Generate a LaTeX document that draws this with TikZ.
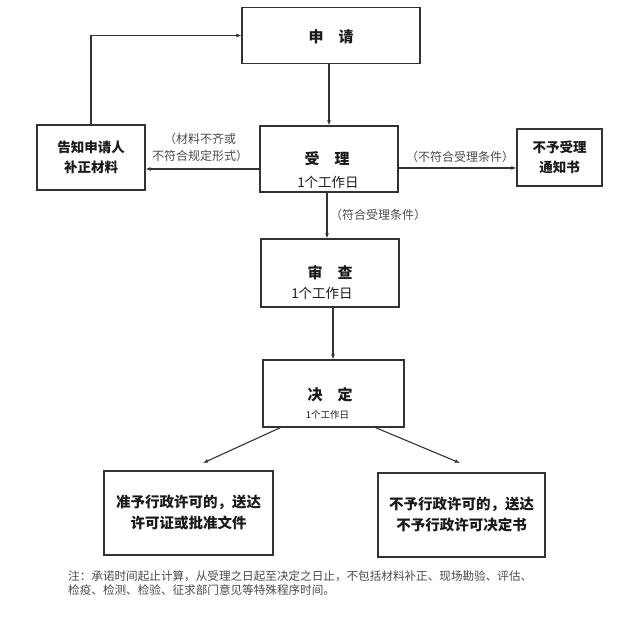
\documentclass[tikz,border=0pt]{standalone}
\usepackage{fontspec}
\setmainfont{Noto Sans CJK SC}
\usetikzlibrary{arrows.meta,calc}
\definecolor{linec}{HTML}{333333}
\definecolor{labc}{HTML}{4A4A4A}
\definecolor{txtc}{HTML}{1A1A1A}
\tikzset{
  box/.style={draw=linec,line width=1.2pt,rectangle,inner sep=0pt,align=center,text=txtc},
  arr/.style={draw=linec,line width=1.1pt,-{Latex[length=5pt,width=4pt]}},
  ln/.style={draw=linec,line width=1.1pt},
  lab/.style={text=labc,font=\fontsize{12}{17}\selectfont,inner sep=0pt,align=center},
  ttl/.style={font=\fontsize{15}{18}\selectfont\bfseries},
  btxt/.style={font=\fontsize{13.5}{20}\selectfont\bfseries},
  bigtxt/.style={font=\fontsize{14.5}{21}\selectfont\bfseries},
}
\begin{document}
\begin{tikzpicture}[x=1pt,y=-1pt]
\useasboundingbox (0,0) rectangle (627,620);
% boxes
\node[box,minimum width=178,minimum height=56] (apply) at (331,35.5) {};
\node[ttl,text=txtc] (applyt) at (331,37) {申\quad 请};
\node[box,minimum width=138,minimum height=66] (accept) at (329,159) {};
\node[ttl,text=txtc] (acceptt) at (327,159) {受\quad 理};
\node[text=txtc,font=\fontsize{13.5}{16}\selectfont] (acceptd) at (328,182) {1个工作日};
\node[box,btxt,minimum width=108,minimum height=65] (notify) at (91,157.5) {告知申请人\\补正材料};
\node[box,btxt,minimum width=85,minimum height=57] (reject) at (559.5,157.5) {不予受理\\通知书};
\node[box,minimum width=138,minimum height=68] (review) at (330,273) {};
\node[ttl,text=txtc] (reviewt) at (330,273) {审\quad 查};
\node[text=txtc,font=\fontsize{13.5}{16}\selectfont] (reviewd) at (322,293) {1个工作日};
\node[box,minimum width=141,minimum height=67] (decide) at (333.5,393.5) {};
\node[ttl,text=txtc] (decidet) at (330,395) {决\quad 定};
\node[text=txtc,font=\fontsize{9.5}{12}\selectfont] (decided) at (327.5,415) {1个工作日};
\node[box,bigtxt,minimum width=169,minimum height=84] (grant) at (188.5,513) {准予行政许可的，送达\\许可证或批准文件};
\node[box,bigtxt,minimum width=167,minimum height=84] (deny) at (461.5,515) {不予行政许可的，送达\\不予行政许可决定书};
% connectors
\draw[arr] (accept.north |- apply.south) -- (accept.north);
\draw[arr] ([yshift=-10]accept.west) -- (notify.east |- {$(accept.west)+(0,10)$});
\draw[arr] ([yshift=-9]accept.east) -- (reject.west |- {$(accept.east)+(0,9)$});
\draw[ln] (notify.north) -- (notify.north |- apply.west);
\draw[arr] (notify.north |- apply.west) -- (apply.west);
\draw[arr] ([xshift=-2]accept.south) -- ([xshift=-2]accept.south |- review.north);
\draw[arr] ([xshift=3]review.south) -- ([xshift=3]review.south |- decide.north);
\coordinate (gtip) at (203,463);
\coordinate (dtip) at (460,463);
\draw[arr] ([xshift=-53]decide.south) -- (gtip);
\draw[arr] ([xshift=42]decide.south) -- (dtip);
% labels
\node[lab] (l1) at (200,147.5) {（材料不齐或\\不符合规定形式）};
\node[lab] (l2) at (460,157) {（不符合受理条件）};
\node[lab] (l3) at (378,215) {（符合受理条件）};
\node[anchor=north west,inner sep=0pt,align=left,text=labc,font=\fontsize{11.6}{14.5}\selectfont] (note) at (68,570)
 {注：承诺时间起止计算，从受理之日起至决定之日止，不包括材料补正、现场勘验、评估、\\检疫、检测、检验、征求部门意见等特殊程序时间。};
\end{tikzpicture}
\end{document}
